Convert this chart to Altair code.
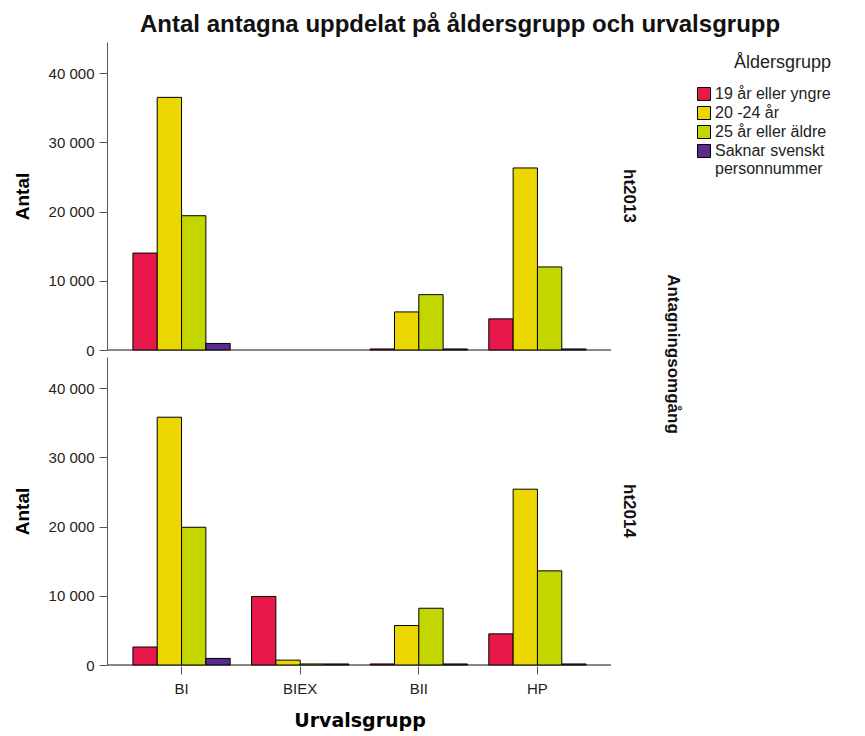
import altair as alt
import pandas as pd

omgangar = ["ht2013", "ht2014"]
urvalsgrupper = ["BI", "BIEX", "BII", "HP"]
aldersgrupper = ["19 år eller yngre", "20 -24 år", "25 år eller äldre", "Saknar svenskt personnummer"]
farger = ["#E8184B", "#ECD600", "#C3D600", "#5A2A8E"]

# values per omgång, urvalsgrupp, in aldersgrupp order
ht2013 = {
    "BI": [14000, 36500, 19400, 950],
    "BIEX": [0, 0, 0, 0],
    "BII": [150, 5500, 8000, 150],
    "HP": [4500, 26300, 12000, 150],
}
ht2014 = {
    "BI": [2600, 35800, 19900, 950],
    "BIEX": [9900, 700, 150, 150],
    "BII": [150, 5700, 8200, 150],
    "HP": [4500, 25400, 13600, 150],
}

rows = []
for omg, data in zip(omgangar, [ht2013, ht2014]):
    for g in urvalsgrupper:
        for a, v in zip(aldersgrupper, data[g]):
            rows.append({"omg": omg, "grupp": g, "alder": a, "antal": v})
df = pd.DataFrame(rows)

FONT = "Liberation Sans"

rule = alt.Chart().mark_rule(color="#888", strokeWidth=1.5).encode(y=alt.datum(0))

bars = alt.Chart().transform_filter("datum.antal > 0").mark_bar(stroke="black", strokeWidth=1).encode(
    x=alt.X("grupp:N", sort=urvalsgrupper, title="Urvalsgrupp",
            scale=alt.Scale(paddingInner=0.18, paddingOuter=0.21),
            axis=alt.Axis(labelAngle=0, labelFontSize=15, labelFont=FONT, labelColor="#222",
                          titleFontSize=19, titleFontWeight="bold", titleFont="DejaVu Sans",
                          titlePadding=15, domain=False, tickSize=8, tickColor="#555",
                          labelPadding=7)),
    xOffset=alt.XOffset("alder:N", sort=aldersgrupper,
                        scale=alt.Scale(domain=aldersgrupper, paddingInner=0, paddingOuter=0)),
    y=alt.Y("antal:Q", title="Antal",
            scale=alt.Scale(domain=[0, 44500], nice=False),
            axis=alt.Axis(values=[0, 10000, 20000, 30000, 40000],
                          labelExpr="replace(format(datum.value, ','), ',', ' ')",
                          grid=False, labelFontSize=15, labelFont=FONT, labelColor="#222",
                          labelPadding=5,
                          titleFontSize=19, titleFontWeight="bold", titleFont=FONT,
                          titlePadding=16, tickSize=8, tickColor="#555", domainColor="#555")),
    color=alt.Color("alder:N", sort=aldersgrupper,
                    scale=alt.Scale(domain=aldersgrupper, range=farger),
                    legend=alt.Legend(title="Åldersgrupp", titleFontSize=18, titleFontWeight="normal",
                                      titleFont=FONT, titleColor="#222", titleAnchor="end",
                                      titlePadding=14, padding=12,
                                      labelFontSize=16, labelFont=FONT, labelColor="#222",
                                      symbolType="square", symbolSize=169, symbolStrokeColor="black",
                                      symbolStrokeWidth=1, symbolOpacity=1, rowPadding=1,
                                      labelOffset=3,
                                      labelExpr="datum.label == 'Saknar svenskt personnummer' ? ['Saknar svenskt', 'personnummer'] : datum.label",
                                      labelLimit=200, offset=2)),
)

chart = alt.layer(rule, bars, data=df).properties(width=503, height=308).facet(
    row=alt.Row("omg:N", sort=omgangar, title="Antagningsomgång",
                header=alt.Header(labelOrient="right", labelAngle=90, labelFontSize=17,
                                  labelFontWeight="bold", labelFont=FONT, labelColor="#111",
                                  labelPadding=8,
                                  titleOrient="right", titleAngle=90, titleFontSize=17,
                                  titleFontWeight="bold", titleFont=FONT, titleColor="#111",
                                  titlePadding=16)),
    spacing=6,
).properties(
    title=alt.TitleParams("Antal antagna uppdelat på åldersgrupp och urvalsgrupp",
                          fontSize=24, fontWeight="bold", font=FONT, color="#111",
                          anchor="middle", offset=5, dx=32),
).configure(background="white").configure_view(strokeWidth=0)

chart.save("out.html", embed_options={"renderer": "svg", "actions": False})
